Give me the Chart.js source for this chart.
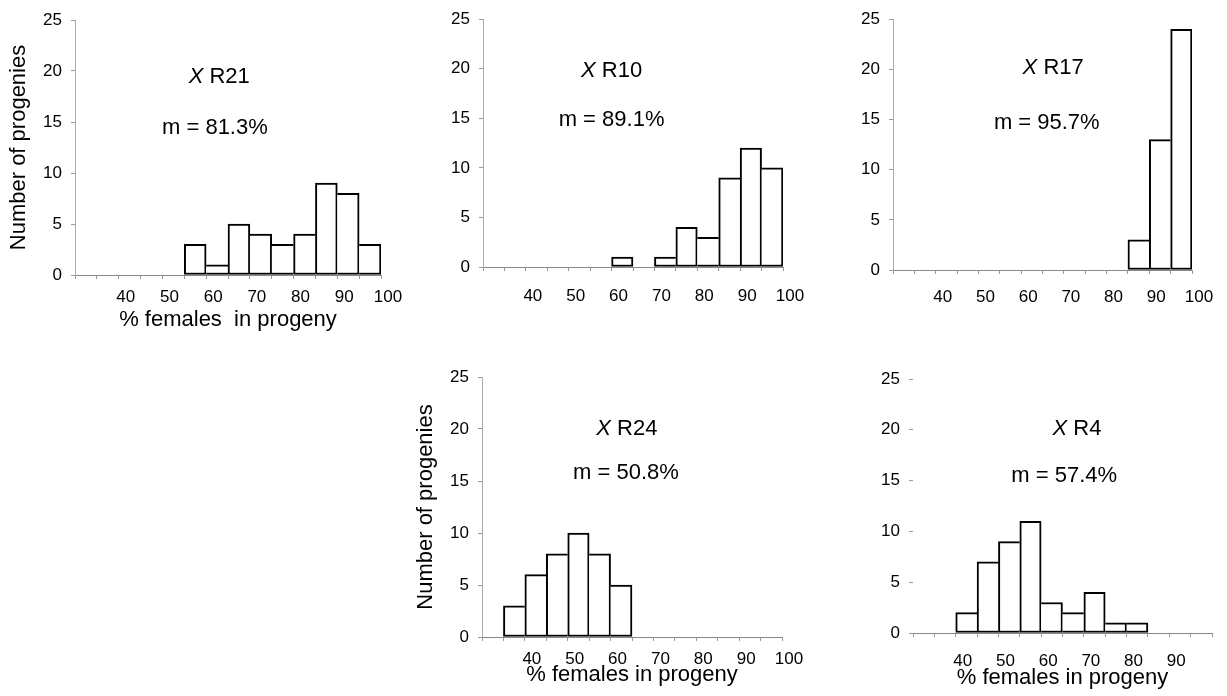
<!DOCTYPE html>
<html>
<head>
<meta charset="utf-8">
<script src="https://cdn.jsdelivr.net/npm/chart.js@4.4.1/dist/chart.umd.min.js"></script>
<style>
  html, body { margin: 0; padding: 0; background: #fff; }
  body { width: 1227px; height: 696px; position: relative; overflow: hidden; }
  .panel { position: absolute; }
</style>
</head>
<body>
<script>
// counts per 5% class, classes given by their lower edge
const r21Bins = [55, 60, 65, 70, 75, 80, 85, 90, 95];
const r21Counts = [3, 1, 5, 4, 3, 4, 9, 8, 3];
const r10Bins = [60, 70, 75, 80, 85, 90, 95];
const r10Counts = [1, 1, 4, 3, 9, 12, 10];
const r17Bins = [85, 90, 95];
const r17Counts = [3, 13, 24];
const r24Bins = [35, 40, 45, 50, 55, 60];
const r24Counts = [3, 6, 8, 10, 8, 5];
const r4Bins = [40, 45, 50, 55, 60, 65, 70, 75, 80];
const r4Counts = [2, 7, 9, 11, 3, 2, 4, 1, 1];

const crossNames = ['R21', 'R10', 'R17', 'R24', 'R4'];
const meanLabels = ['m = 81.3%', 'm = 89.1%', 'm = 95.7%', 'm = 50.8%', 'm = 57.4%'];
const xTickLabels = [40, 50, 60, 70, 80, 90, 100];
const xTickLabelsR4 = [40, 50, 60, 70, 80, 90];
const yTickLabels = [0, 5, 10, 15, 20, 25];

const binWidth = 5;
const FONT = "'Liberation Sans', Arial, Helvetica, sans-serif";
Chart.defaults.font.family = FONT;
Chart.defaults.color = '#000';

const panels = [
  { bins: r21Bins, counts: r21Counts, name: crossNames[0], mean: meanLabels[0], ticks: xTickLabels,
    box: [0, 0, 411, 340], padTop: 20, padRight: 30, xh: 65, tickPad: 8, yLine: true,
    yTitle: 'Number of progenies', xTitle: '% females  in progeny', xTitlePad: 7,
    namePos: [63, 19.4], meanPos: [62, 14.4] },
  { bins: r10Bins, counts: r10Counts, name: crossNames[1], mean: meanLabels[1], ticks: xTickLabels,
    box: [408, 0, 405, 317], padTop: 15, padRight: 30, xh: 50, tickPad: 15, yLine: true,
    namePos: [60, 19.8], meanPos: [60, 14.8] },
  { bins: r17Bins, counts: r17Counts, name: crossNames[2], mean: meanLabels[2], ticks: xTickLabels,
    box: [818, 0, 404, 320], padTop: 18, padRight: 30, xh: 50, tickPad: 13, yLine: true,
    namePos: [67.5, 20.1], meanPos: [66, 14.7] },
  { bins: r24Bins, counts: r24Counts, name: crossNames[3], mean: meanLabels[3], ticks: xTickLabels,
    box: [407, 357, 405, 338], padTop: 20, padRight: 30, xh: 58, tickPad: 8, yLine: true,
    yTitle: 'Number of progenies', xTitle: '% females in progeny', xTitlePad: 7,
    namePos: [63.8, 20], meanPos: [63.6, 15.8] },
  { bins: r4Bins, counts: r4Counts, name: crossNames[4], mean: meanLabels[4], ticks: xTickLabelsR4,
    box: [838, 359, 388, 334], padTop: 20, padRight: 14, xh: 60, tickPad: 14, yLine: false,
    xTitle: '% females in progeny', xTitlePad: 2,
    namePos: [68.4, 20.1], meanPos: [65.4, 15.5] }
];

// "X R21" (italic X) and the mean, placed in data coordinates
const notesPlugin = {
  id: 'notes',
  afterDatasetsDraw(chart, args, opts) {
    const { ctx, scales: { x, y } } = chart;
    ctx.save();
    ctx.fillStyle = '#000';
    ctx.textBaseline = 'middle';
    const size = 22;
    const nx = x.getPixelForValue(opts.namePos[0]);
    const ny = y.getPixelForValue(opts.namePos[1]);
    ctx.font = 'italic ' + size + 'px ' + FONT;
    const wX = ctx.measureText('X').width;
    ctx.font = size + 'px ' + FONT;
    const rest = ' ' + opts.name;
    const wR = ctx.measureText(rest).width;
    const sx = nx - (wX + wR) / 2;
    ctx.textAlign = 'left';
    ctx.font = 'italic ' + size + 'px ' + FONT;
    ctx.fillText('X', sx, ny);
    ctx.font = size + 'px ' + FONT;
    ctx.fillText(rest, sx + wX, ny);
    ctx.textAlign = 'center';
    ctx.fillText(opts.mean, x.getPixelForValue(opts.meanPos[0]), y.getPixelForValue(opts.meanPos[1]));
    ctx.restore();
  }
};

panels.forEach((p) => {
  const wrap = document.createElement('div');
  wrap.className = 'panel';
  wrap.style.left = p.box[0] + 'px';
  wrap.style.top = p.box[1] + 'px';
  const canvas = document.createElement('canvas');
  canvas.width = p.box[2];
  canvas.height = p.box[3];
  wrap.appendChild(canvas);
  document.body.appendChild(wrap);

  const points = p.bins.map((b, i) => ({ x: b + binWidth / 2, y: p.counts[i] }));

  // a shared edge between two touching bars is drawn once, by the taller bar
  const edge = (c) => {
    const i = c.dataIndex;
    const n = p.counts[i];
    const prevTouch = i > 0 && p.bins[i - 1] === p.bins[i] - binWidth;
    const nextTouch = p.bins[i + 1] === p.bins[i] + binWidth;
    return {
      top: 2,
      bottom: 2,
      left: !prevTouch || n > p.counts[i - 1] ? 2 : 0,
      right: !nextTouch || n >= p.counts[i + 1] ? 2 : 0
    };
  };

  new Chart(canvas, {
    type: 'bar',
    data: {
      datasets: [{
        data: points,
        backgroundColor: '#fff',
        borderColor: '#000',
        borderSkipped: false,
        borderWidth: edge,
        barPercentage: 1,
        categoryPercentage: 1
      }]
    },
    options: {
      responsive: false,
      animation: false,
      events: [],
      layout: { padding: { left: 0, top: p.padTop, right: p.padRight, bottom: 0 } },
      plugins: {
        legend: { display: false },
        tooltip: { enabled: false },
        notes: { name: p.name, mean: p.mean, namePos: p.namePos, meanPos: p.meanPos }
      },
      scales: {
        x: {
          type: 'linear',
          min: 30,
          max: 100,
          offset: false,
          afterFit: (s) => { s.height = p.xh; },
          grid: { offset: false, drawOnChartArea: false, drawTicks: true, tickLength: 4, color: '#999' },
          border: { display: true, color: '#888', width: 1 },
          ticks: {
            stepSize: 5,
            autoSkip: false,
            maxRotation: 0,
            padding: p.tickPad,
            labelOffset: 7,
            font: { size: 17 },
            color: '#000',
            callback: (v) => (p.ticks.includes(v) ? String(v) : '')
          },
          title: p.xTitle ? {
            display: true, text: p.xTitle, color: '#000',
            font: { size: 22 }, padding: { top: 0, bottom: p.xTitlePad }
          } : { display: false }
        },
        y: {
          min: 0,
          max: 25,
          afterFit: (s) => { s.width = 75; },
          grid: { drawOnChartArea: false, drawTicks: true, tickLength: 4, color: '#999' },
          border: { display: p.yLine, color: '#aaa', width: 1, dash: [2, 2] },
          ticks: {
            stepSize: 5,
            padding: 9,
            font: { size: 17 },
            color: '#000',
            callback: (v) => (yTickLabels.includes(v) ? String(v) : '')
          },
          title: p.yTitle ? {
            display: true, text: p.yTitle, color: '#000',
            font: { size: 22 }, padding: { top: 6, bottom: 0 }
          } : { display: false }
        }
      }
    },
    plugins: [notesPlugin]
  });
});
</script>
</body>
</html>
